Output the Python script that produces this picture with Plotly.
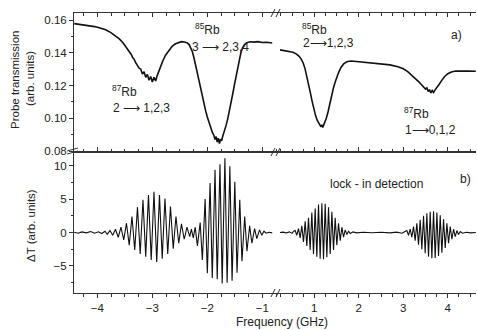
import plotly.graph_objects as go

# ---------------- data ----------------
# (a) probe transmission, left part of broken axis (GHz)
top_left_x = [-4.42, -4.35, -4.25, -4.15, -4.05, -3.95, -3.85, -3.76, -3.68, -3.60, -3.53, -3.47,
              -3.42, -3.38, -3.36, -3.33, -3.30, -3.27, -3.24, -3.21, -3.18, -3.15, -3.12, -3.09,
              -3.06, -3.03, -3.00, -2.97, -2.94, -2.91, -2.88, -2.85, -2.81, -2.76, -2.70, -2.64,
              -2.58, -2.52, -2.47, -2.42, -2.37, -2.33, -2.30, -2.27, -2.24, -2.21, -2.18, -2.15,
              -2.12, -2.09, -2.06, -2.03, -2.00, -1.97, -1.94, -1.91, -1.88, -1.86, -1.84, -1.82,
              -1.80, -1.78, -1.76, -1.74, -1.72, -1.69, -1.66, -1.63, -1.60, -1.57, -1.54, -1.51,
              -1.48, -1.45, -1.42, -1.39, -1.36, -1.32, -1.28, -1.22, -1.15, -1.08, -1.00, -0.92, -0.82]
top_left_y = [0.1578, 0.1575, 0.1571, 0.1566, 0.1560, 0.1551, 0.1540, 0.1525, 0.1507, 0.1485, 0.1460, 0.1432,
              0.1405, 0.1388, 0.1372, 0.1360, 0.1338, 0.1322, 0.1306, 0.1300, 0.1270, 0.1284, 0.1250, 0.1268,
              0.1232, 0.1255, 0.1222, 0.1250, 0.1228, 0.1262, 0.1290, 0.1318, 0.1350, 0.1385, 0.1415, 0.1440,
              0.1455, 0.1463, 0.1468, 0.1466, 0.1462, 0.1450, 0.1432, 0.1405, 0.1365, 0.1318, 0.1262, 0.1212,
              0.1168, 0.1125, 0.1085, 0.1045, 0.1008, 0.0975, 0.0945, 0.0915, 0.0895, 0.0870, 0.0888, 0.0855,
              0.0878, 0.0845, 0.0872, 0.0862, 0.0890, 0.0920, 0.0955, 0.0995, 0.1040, 0.1090, 0.1145, 0.1200,
              0.1255, 0.1310, 0.1360, 0.1400, 0.1430, 0.1452, 0.1462, 0.1467, 0.1465, 0.1468, 0.1463, 0.1464, 0.1460]

# (a) probe transmission, right part of broken axis (GHz)
top_right_x = [0.23, 0.32, 0.42, 0.52, 0.60, 0.66, 0.71, 0.75, 0.79, 0.83, 0.87, 0.91, 0.95, 0.99,
               1.03, 1.07, 1.10, 1.13, 1.15, 1.17, 1.19, 1.21, 1.24, 1.27, 1.31, 1.35, 1.39, 1.43,
               1.47, 1.51, 1.55, 1.60, 1.66, 1.73, 1.82, 1.95, 2.10, 2.30, 2.50, 2.70, 2.88, 3.00,
               3.10, 3.20, 3.28, 3.35, 3.41, 3.46, 3.50, 3.53, 3.56, 3.59, 3.62, 3.65, 3.68, 3.71,
               3.75, 3.80, 3.86, 3.93, 4.00, 4.08, 4.18, 4.30, 4.45, 4.63]
top_right_y = [0.1418, 0.1414, 0.1410, 0.1403, 0.1392, 0.1378, 0.1360, 0.1338, 0.1305, 0.1262, 0.1212, 0.1158, 0.1105, 0.1058,
               0.1015, 0.0985, 0.0972, 0.0962, 0.0948, 0.0960, 0.0944, 0.0958, 0.0975, 0.1000, 0.1040, 0.1092, 0.1140, 0.1185,
               0.1222, 0.1255, 0.1282, 0.1310, 0.1332, 0.1345, 0.1350, 0.1347, 0.1343, 0.1338, 0.1333, 0.1326, 0.1315, 0.1302,
               0.1285, 0.1262, 0.1240, 0.1222, 0.1205, 0.1190, 0.1178, 0.1185, 0.1163, 0.1175, 0.1155, 0.1170, 0.1158, 0.1172,
               0.1185, 0.1205, 0.1230, 0.1255, 0.1272, 0.1283, 0.1289, 0.1290, 0.1288, 0.1287]

# (b) lock-in signal, left part
bot_left_x = [-4.42, -4.35, -4.28, -4.20, -4.12, -4.05, -3.98, -3.92, -3.86, -3.82,
              -3.77, -3.72, -3.67, -3.62, -3.57, -3.52, -3.47, -3.42, -3.37, -3.32, -3.27, -3.22,
              -3.17, -3.12, -3.07, -3.02, -2.97, -2.92, -2.87, -2.82, -2.77, -2.72, -2.67, -2.62,
              -2.57, -2.52, -2.47, -2.42, -2.37, -2.32,
              -2.29, -2.255, -2.22, -2.18, -2.13, -2.09, -2.04, -2.00, -1.95, -1.91, -1.86, -1.82,
              -1.77, -1.73, -1.68, -1.64, -1.59, -1.55, -1.50, -1.46, -1.41, -1.37, -1.32, -1.28,
              -1.23, -1.19, -1.14, -1.10, -1.05, -1.01, -0.97, -0.93, -0.88, -0.82]
bot_left_y = [0.05, -0.1, 0.1, -0.05, 0.15, -0.1, 0.12, -0.15, 0.2, -0.25,
              0.3, -0.4, 0.5, -0.7, 0.8, -1.1, 1.4, -1.9, 2.4, -2.6, 3.8, -3.2,
              4.9, -3.6, 5.6, -4.1, 6.1, -4.4, 5.6, -3.9, 5.1, -3.2, 3.9, -2.4,
              2.4, -1.6, 1.3, -1.0, 0.8, -0.6,
              0.5, -0.8, 0.8, -2.0, 1.5, -4.1, 5.0, -6.1, 7.4, -6.8, 9.4, -7.0,
              10.2, -7.6, 11.1, -7.5, 9.9, -7.2, 7.6, -6.0, 4.9, -4.3, 2.4, -2.8,
              1.0, -1.6, 0.6, -0.9, 0.4, -0.4, 0.2, -0.1, 0.05, -0.05]

# (b) lock-in signal, right part
bot_right_x = [0.23, 0.30, 0.37, 0.44, 0.50, 0.535,
               0.57, 0.607, 0.645, 0.682, 0.72, 0.757, 0.795, 0.832, 0.87, 0.907, 0.945, 0.982,
               1.02, 1.057, 1.095, 1.132, 1.17, 1.207, 1.245, 1.282, 1.32, 1.357, 1.395, 1.432,
               1.47, 1.507, 1.545, 1.582, 1.62, 1.657, 1.695, 1.732, 1.77,
               1.81, 1.87, 1.95, 2.10, 2.30, 2.50, 2.70, 2.85, 2.97, 3.04,
               3.08, 3.117, 3.155, 3.192, 3.23, 3.267, 3.305, 3.342, 3.38, 3.417, 3.455, 3.492,
               3.53, 3.567, 3.605, 3.642, 3.68, 3.717, 3.755, 3.792, 3.83, 3.867, 3.905, 3.942,
               3.98, 4.017, 4.055, 4.092, 4.13, 4.167, 4.205, 4.242,
               4.28, 4.33, 4.42, 4.52, 4.63]
bot_right_y = [0.0, 0.06, -0.05, 0.1, -0.12, 0.2,
               0.3, -0.4, 0.6, -0.8, 1.0, -1.4, 1.7, -2.0, 2.2, -2.6, 3.0, -3.2,
               3.6, -3.6, 4.2, -3.9, 4.4, -4.0, 4.3, -3.7, 3.8, -3.2, 3.1, -2.6,
               2.2, -1.9, 1.4, -1.2, 0.8, -0.7, 0.4, -0.3, 0.2,
               -0.15, 0.1, -0.05, 0.05, -0.02, 0.05, -0.05, 0.06, -0.1, 0.15,
               0.3, -0.4, 0.5, -0.7, 0.9, -1.2, 1.4, -1.8, 1.9, -2.5, 2.5, -3.1,
               2.9, -3.6, 3.1, -3.85, 3.2, -3.8, 3.0, -3.5, 2.6, -3.0, 2.0, -2.3,
               1.4, -1.6, 0.9, -1.0, 0.5, -0.6, 0.3, -0.3,
               0.15, -0.1, 0.05, -0.05, 0.0]

left_ticks = [-4, -3, -2, -1]
right_ticks = [1, 2, 3, 4]
top_yticks = [0.08, 0.10, 0.12, 0.14, 0.16]
bot_yticks = [-5, 0, 5, 10]

# ---------------- layout geometry ----------------
W, H = 477, 330
PL, PR, PT, PB = 74, 476, 13, 293          # plot area in window pixels
L, R, T, B = PL, W - PR, PT, H - PB
PW, PH = PR - PL, PB - PT


def pp(px, py):
    """window pixel -> paper coordinates"""
    return (px - PL) / PW, (PB - py) / PH


split_x = pp(277, 0)[0]
split_y = pp(0, 152)[1]

FONT = "Liberation Sans, Arial, sans-serif"
TXT = "#222222"
LINE = "#111111"

fig = go.Figure()
fig.add_trace(go.Scatter(x=top_left_x, y=top_left_y, xaxis="x3", yaxis="y2", mode="lines",
                         line=dict(color=LINE, width=1.6), showlegend=False))
fig.add_trace(go.Scatter(x=top_right_x, y=top_right_y, xaxis="x4", yaxis="y2", mode="lines",
                         line=dict(color=LINE, width=1.6), showlegend=False))
fig.add_trace(go.Scatter(x=bot_left_x, y=bot_left_y, xaxis="x", yaxis="y", mode="lines",
                         line=dict(color=LINE, width=1.1), showlegend=False))
fig.add_trace(go.Scatter(x=bot_right_x, y=bot_right_y, xaxis="x2", yaxis="y", mode="lines",
                         line=dict(color=LINE, width=1.1), showlegend=False))

xl_range = [-4.424, -0.733]
xr_range = [0.162, 4.634]
yb_range = [-9.04, 12.05]
yt_range = [0.0794, 0.1643]

tickfont = dict(family=FONT, size=11.5, color=TXT)
common_x = dict(showgrid=False, zeroline=False, showline=True, linecolor="#333", linewidth=1,
                mirror="ticks", tickcolor="#333", tickfont=tickfont)

fig.update_layout(
    width=W, height=H, margin=dict(l=L, r=R, t=T, b=B, autoexpand=False),
    paper_bgcolor="white", plot_bgcolor="white",
    xaxis=dict(domain=[0, split_x], range=xl_range, anchor="y", tickvals=left_ticks,
               ticks="outside", ticklen=4,
               minor=dict(dtick=0.25, ticklen=2.5, ticks="outside", tickcolor="#333"), **common_x),
    xaxis2=dict(domain=[split_x, 1], range=xr_range, anchor="y", tickvals=right_ticks,
                ticks="outside", ticklen=4,
                minor=dict(dtick=0.25, ticklen=2.5, ticks="outside", tickcolor="#333"), **common_x),
    xaxis3=dict(domain=[0, split_x], range=xl_range, anchor="y2", tickvals=left_ticks,
                showticklabels=False, ticks="inside", ticklen=4,
                minor=dict(dtick=0.25, ticklen=2.5, ticks="inside", tickcolor="#333"), **common_x),
    xaxis4=dict(domain=[split_x, 1], range=xr_range, anchor="y2", tickvals=right_ticks,
                showticklabels=False, ticks="inside", ticklen=4,
                minor=dict(dtick=0.25, ticklen=2.5, ticks="inside", tickcolor="#333"), **common_x),
    yaxis=dict(domain=[0, split_y], range=yb_range, anchor="x", tickvals=bot_yticks,
               ticks="outside", ticklen=4, tickcolor="#333", showline=True, linecolor="#333",
               showgrid=False, zeroline=False, tickfont=tickfont,
               minor=dict(dtick=2.5, ticklen=2.5, ticks="outside", tickcolor="#333")),
    yaxis2=dict(domain=[split_y, 1], range=yt_range, anchor="x3", tickvals=top_yticks,
                tickformat=".2f", ticks="outside", ticklen=4, tickcolor="#333", showline=True,
                linecolor="#333", showgrid=False, zeroline=False, tickfont=tickfont,
                minor=dict(dtick=0.01, ticklen=2.5, ticks="outside", tickcolor="#333")),
    yaxis3=dict(overlaying="y", side="right", anchor="x2", range=yb_range, tickvals=bot_yticks,
                showticklabels=False, ticks="inside", ticklen=4, tickcolor="#333", showline=True,
                linecolor="#333", showgrid=False, zeroline=False,
                minor=dict(dtick=2.5, ticklen=2.5, ticks="inside", tickcolor="#333")),
    yaxis4=dict(overlaying="y2", side="right", anchor="x4", range=yt_range, tickvals=top_yticks,
                showticklabels=False, ticks="inside", ticklen=4, tickcolor="#333", showline=True,
                linecolor="#333", showgrid=False, zeroline=False,
                minor=dict(dtick=0.01, ticklen=2.5, ticks="inside", tickcolor="#333")),
)

# ---------------- text ----------------
def ann(text, px, py, size=12, xanchor="left", angle=0):
    x, y = pp(px, py)
    fig.add_annotation(text=text, x=x, y=y, xref="paper", yref="paper", showarrow=False,
                       xanchor=xanchor, yanchor="middle", textangle=angle,
                       font=dict(family=FONT, size=size, color=TXT))

ARW = "\u27f6"
ann("<sup>85</sup>Rb", 193, 29)
ann("3 " + ARW + " 2,3,4", 190, 47)
ann("<sup>87</sup>Rb", 110, 91)
ann("2 " + ARW + " 1,2,3", 111, 108)
ann("<sup>85</sup>Rb", 300, 29)
ann("2" + ARW + "1,2,3", 301, 43)
ann("<sup>87</sup>Rb", 402, 113)
ann("1" + ARW + "0,1,2", 403, 130)
ann("a)", 449, 35)
ann("b)", 458, 179)
ann("lock - in detection", 328, 184)
ann("Frequency (GHz)", 282, 322, size=12, xanchor="center")
ann("Probe transmission", 15, 80, size=11.5, xanchor="center", angle=-90)
ann("(arb. units)", 30, 79, size=11.5, xanchor="center", angle=-90)
ann("\u0394T (arb. units)", 31, 226, size=11.5, xanchor="center", angle=-90)

# ---------------- axis break marks ----------------
def seg(x1, y1, x2, y2):
    a, b = pp(x1, y1)
    c, d = pp(x2, y2)
    fig.add_shape(type="line", xref="paper", yref="paper", x0=a, y0=b, x1=c, y1=d,
                  line=dict(color="#333", width=1))

for yb in (13, 152, 293):
    seg(271, yb + 4, 275, yb - 4)
    seg(276, yb + 4, 280, yb - 4)
seg(67, 151, 78, 148)
seg(67, 154, 78, 151)

# remove the browser's default page margin so the 477x330 figure fills the window
fig.write_html("out.html",
               config={"displayModeBar": False, "staticPlot": True},
               post_script="document.body.style.margin='0';document.body.style.overflow='hidden';")
